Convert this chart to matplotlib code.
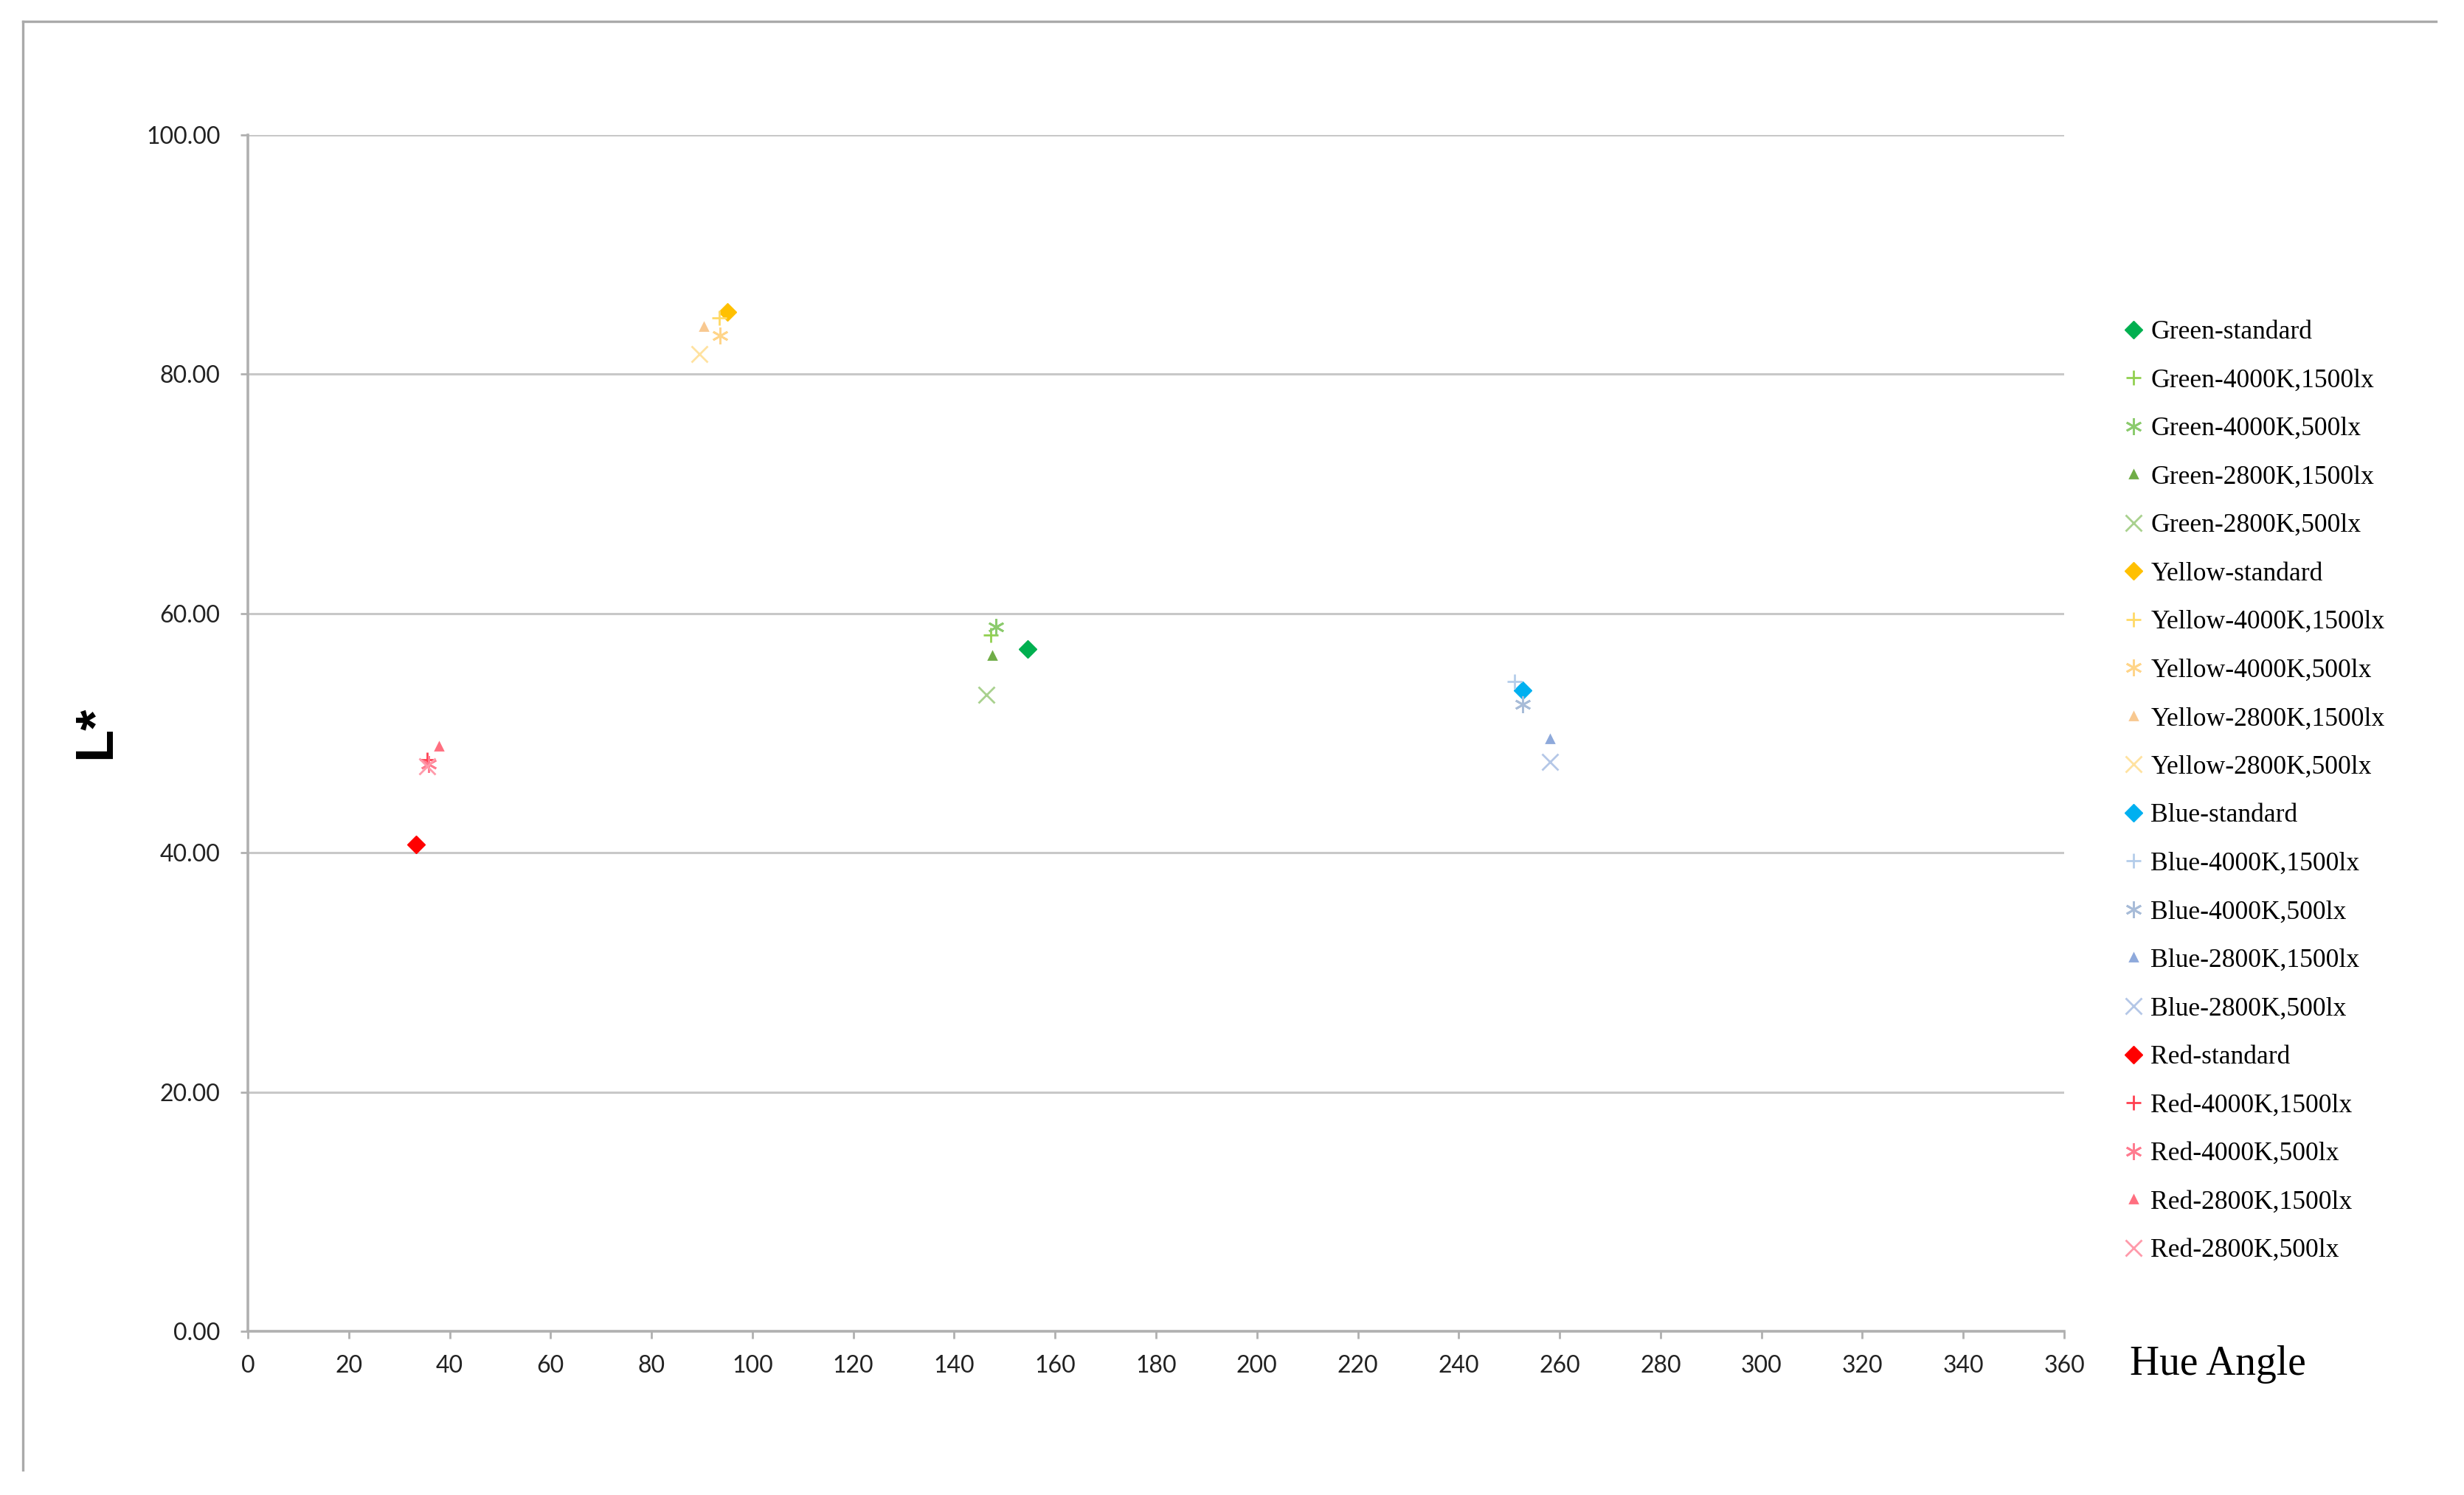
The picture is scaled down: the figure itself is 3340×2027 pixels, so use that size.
import matplotlib
matplotlib.use("Agg")
import matplotlib.pyplot as plt
from matplotlib.lines import Line2D
from matplotlib.ticker import FormatStrFormatter

# Hue angle / L* for each colour sample, in condition order
conditions = ['standard', '4000K,1500lx', '4000K,500lx', '2800K,1500lx', '2800K,500lx']
samples = ['Green', 'Yellow', 'Blue', 'Red']

green_hue = [154.5, 147.3, 148.2, 147.5, 146.4]
green_L = [57.0, 58.2, 58.9, 56.5, 53.2]
yellow_hue = [95.1, 93.4, 93.6, 90.3, 89.5]
yellow_L = [85.2, 84.7, 83.2, 84.0, 81.7]
blue_hue = [252.7, 251.1, 252.6, 258.1, 258.1]
blue_L = [53.6, 54.3, 52.4, 49.5, 47.6]
red_hue = [33.3, 35.5, 35.8, 37.8, 35.5]
red_L = [40.7, 47.8, 47.4, 48.9, 47.2]

x_ticks = list(range(0, 361, 20))
y_ticks = [0, 20, 40, 60, 80, 100]

hues = [green_hue, yellow_hue, blue_hue, red_hue]
lights = [green_L, yellow_L, blue_L, red_L]

colors = {
    'Green': ['#00B050', '#92D050', '#8CCB6E', '#70AD47', '#A9D18E'],
    'Yellow': ['#FFC000', '#FFD966', '#FFD58A', '#F8C890', '#FFE2A0'],
    'Blue': ['#00B0F0', '#B4CDEA', '#A8BCD8', '#8EA9DB', '#B4C7E7'],
    'Red': ['#FF0000', '#FF4050', '#FF7C90', '#FF6F80', '#FF9AAA'],
}
markers = ['D', '+', (6, 2, 0), '^', 'x']
sizes = [6, 7, 8, 3.5, 8]

fig = plt.figure(figsize=(3341 / 200, 2027 / 200), dpi=200)
ax = fig.add_axes([336 / 3341, 1 - 1805 / 2027, (2798 - 336) / 3341, (1805 - 183) / 2027])

for name, hx, ly in zip(samples, hues, lights):
    for i, cond in enumerate(conditions):
        ax.plot(hx[i], ly[i], linestyle='none', marker=markers[i],
                markersize=sizes[i], color=colors[name][i],
                markeredgewidth=1.0 if i else 0.5,
                label=f'{name}-{cond}')

ax.set_xlim(0, 360)
ax.set_ylim(0, 100)
ax.set_xticks(x_ticks)
ax.set_yticks(y_ticks)
ax.yaxis.set_major_formatter(FormatStrFormatter('%.2f'))
ax.grid(True, axis='y', color='#C8C8C8', linewidth=1.1)
ax.set_axisbelow(True)
for side in ['top', 'right']:
    ax.spines[side].set_visible(False)
for side in ['left', 'bottom']:
    ax.spines[side].set_color('#B0B0B0')
    ax.spines[side].set_linewidth(1.3)
ax.tick_params(axis='both', colors='#B0B0B0', labelcolor='#222222',
               labelsize=11.5, length=3.5, width=1.0)
ax.tick_params(axis='y', pad=10)
ax.tick_params(axis='x', pad=8)
for lab in ax.get_xticklabels() + ax.get_yticklabels():
    lab.set_family('Lato')

fig.text(130 / 3341, 1 - 993 / 2027, 'L*', rotation=90, ha='center', va='center',
         fontsize=26, fontweight='bold', family='Liberation Sans')
fig.text(2887 / 3341, 1 - 1850 / 2027, 'Hue Angle', ha='left', va='center',
         fontsize=20, family='Liberation Serif')

ax.legend(loc='upper left', bbox_to_anchor=(2878 / 3341, 1 - 434 / 2027),
          bbox_transform=fig.transFigure, frameon=False, handlelength=0.8,
          handletextpad=0.25, labelspacing=0.915, borderpad=0, borderaxespad=0,
          prop={'family': 'Liberation Serif', 'size': 12.8})

# outer chart frame (top and left edges only visible)
fig.add_artist(Line2D([31 / 3341, 3302 / 3341], [1 - 29 / 2027, 1 - 29 / 2027],
                      transform=fig.transFigure, color='#AAAAAA', linewidth=1.2))
fig.add_artist(Line2D([31 / 3341, 31 / 3341], [1 - 29 / 2027, 1 - 1993 / 2027],
                      transform=fig.transFigure, color='#AAAAAA', linewidth=1.2))

plt.savefig('out.png', dpi=200)
